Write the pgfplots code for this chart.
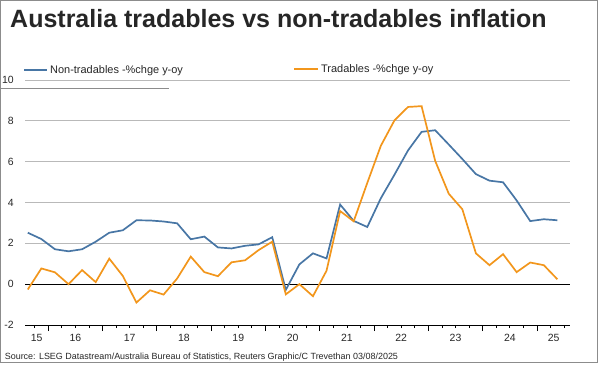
\documentclass[border=0pt]{standalone}
\usepackage{pgfplots}
\pgfplotsset{compat=1.18}
\usepackage{pgfplotstable}
\usepackage{fontspec}
\setmainfont{Liberation Sans}
\definecolor{ntblue}{RGB}{72,118,165}
\definecolor{trorange}{RGB}{242,150,28}
\definecolor{gridgray}{RGB}{185,185,185}
\definecolor{framegray}{RGB}{140,140,140}
\definecolor{txt}{RGB}{38,38,38}

\pgfplotstableread{
k nontrad trad
0 2.52 -0.26
1 2.21 0.77
2 1.71 0.58
3 1.61 0.00
4 1.71 0.69
5 2.08 0.10
6 2.52 1.25
7 2.64 0.40
8 3.13 -0.90
9 3.12 -0.30
10 3.07 -0.51
11 2.98 0.28
12 2.20 1.35
13 2.33 0.59
14 1.80 0.39
15 1.75 1.07
16 1.88 1.17
17 1.95 1.67
18 2.30 2.08
19 -0.28 -0.50
20 0.97 0.00
21 1.51 -0.59
22 1.26 0.66
23 3.90 3.58
24 3.10 3.08
25 2.80 4.96
26 4.21 6.78
27 5.36 8.02
28 6.55 8.68
29 7.46 8.72
30 7.54 6.04
31 6.84 4.43
32 6.13 3.67
33 5.39 1.51
34 5.07 0.93
35 4.99 1.47
36 4.10 0.59
37 3.09 1.06
38 3.18 0.93
39 3.13 0.24
}\datatable

\begin{document}
\begin{tikzpicture}[x=1bp,y=1bp]
\useasboundingbox (0,0) rectangle (600,365);
\draw[framegray, line width=1bp] (0.5,2.5) rectangle (597.5,364.5);
\draw[framegray, line width=0.8bp] (0,276.7) -- (168.7,276.7);

\node[anchor=base west, inner sep=0pt, text=txt, font=\fontsize{25.1}{28}\selectfont\bfseries] at (10,337.7) {Australia tradables vs non-tradables inflation};

\draw[ntblue, line width=1.7bp] (24,295.3) -- (47,295.3);
\node[anchor=base west, inner sep=0pt, text=txt, font=\fontsize{11}{13}\selectfont] at (50,291.5) {Non-tradables -\%chge y-oy};
\draw[trorange, line width=1.7bp] (294,296) -- (318,296);
\node[anchor=base west, inner sep=0pt, text=txt, font=\fontsize{11}{13}\selectfont] at (321,292.2) {Tradables -\%chge y-oy};

\node[anchor=base west, inner sep=0pt, text=txt, font=\fontsize{9}{10}\selectfont] at (4.6,5.4) {Source: LSEG Datastream/Australia Bureau of Statistics, Reuters Graphic/C Trevethan 03/08/2025};

\begin{axis}[
  at={(25bp,40bp)}, anchor=south west,
  scale only axis, width=545bp, height=245bp,
  xmin=-0.206, xmax=39.93, ymin=-2, ymax=10,
  axis x line*=bottom, axis y line*=left,
  y axis line style={draw=none},
  x axis line style={black, line width=0.8bp},
  ytick={-2,0,2,4,6,8,10},
  yticklabels={-2,0,2,4,6,8,10},
  ytick style={draw=none},
  ymajorgrids, grid style={gridgray, line width=0.8bp},
  yticklabel style={anchor=east, inner sep=0pt, xshift=-5bp},
  tick label style={font=\fontsize{10.5}{12}\selectfont, text=txt},
  tick align=outside,
  xtick={1.5,5.5,9.5,13.5,17.5,21.5,25.5,29.5,33.5,37.5},
  xticklabels={},
  minor xtick={0.5,1.5,...,39.5},
  major tick length=6bp, minor tick length=3bp,
  xtick style={black, line width=0.8bp},
  minor x tick style={black, line width=0.8bp},
  extra x ticks={0.647,3.5,7.5,11.5,15.5,19.5,23.5,27.5,31.5,35.5,38.72},
  extra x tick labels={15,16,17,18,19,20,21,22,23,24,25},
  extra x tick style={major tick length=0pt, grid=none,
     xticklabel style={anchor=north, inner sep=0pt, yshift=-9bp}},
  clip=false,
]
\draw[black, line width=0.8bp] (axis cs:-0.206,0) -- (axis cs:39.93,0);
\addplot[ntblue, line width=1.7bp, mark=none] table[x=k, y=nontrad] {\datatable};
\addplot[trorange, line width=1.7bp, mark=none] table[x=k, y=trad] {\datatable};
\end{axis}
\end{tikzpicture}
\end{document}
